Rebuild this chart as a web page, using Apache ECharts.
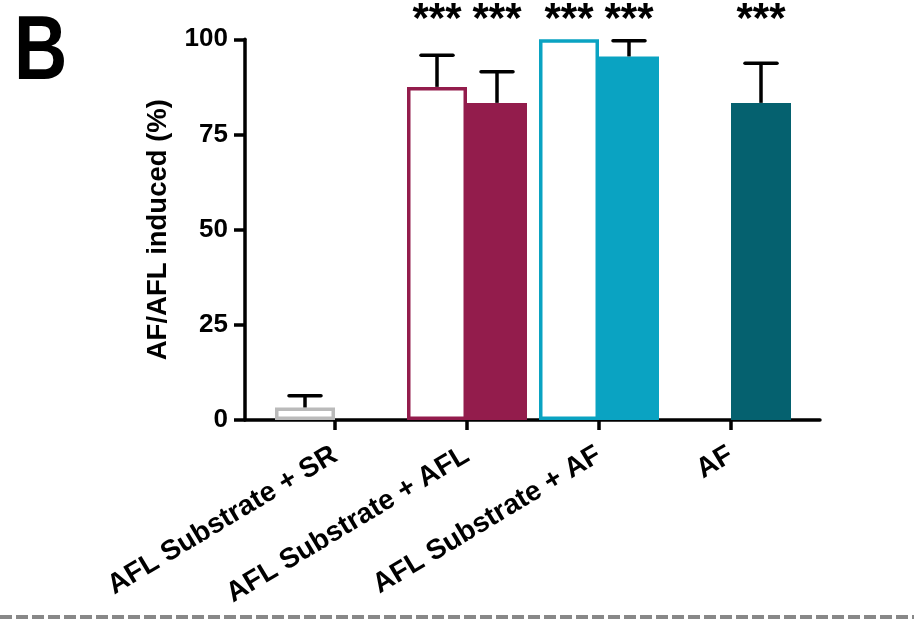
<!DOCTYPE html>
<html>
<head>
<meta charset="utf-8">
<script src="https://cdn.jsdelivr.net/npm/echarts@6/dist/echarts.min.js"></script>
<style>
html,body{margin:0;padding:0;background:#fff;}
#chart{width:914px;height:620px;}
</style>
</head>
<body>
<div id="chart"></div>
<script>
// ---- data ----
var categories = ['AFL Substrate + SR', 'AFL Substrate + AFL', 'AFL Substrate + AF', 'AF'];
var openValues   = [3.3, 87.5, 100, null];
var openErr      = [3.1, 8.3, 0, null];
var openSig      = ['', '***', '***', ''];
var filledValues = [null, 83.3, 95.5, 83.3];
var filledErr    = [null, 8.2, 4.1, 10.4];
var filledSig    = ['', '***', '***', '***'];
var yTicks = [0, 25, 50, 75, 100];

// ---- styles ----
var FONT = "'Liberation Sans', Arial, sans-serif";
var openColors   = ['#bababa', '#931c4c', '#0aa3c2', '#000'];
var filledColors = ['#000', '#931c4c', '#0aa3c2', '#05616f'];
var BAR_W = 60;

var chart = echarts.init(document.getElementById('chart'));

var openData = openValues.map(function (v, i) {
  return { value: v, itemStyle: { color: '#fff', borderColor: openColors[i], borderWidth: 3.5 } };
});
var filledData = filledValues.map(function (v, i) {
  return { value: v, itemStyle: { color: filledColors[i], borderWidth: 0 } };
});

var errData = [];
openValues.forEach(function (v, i) {
  if (v !== null) errData.push([i, v, openErr[i], -1, openSig[i]]);
});
filledValues.forEach(function (v, i) {
  if (v !== null) errData.push([i, v, filledErr[i], 1, filledSig[i]]);
});

function renderErr(params, api) {
  var idx = api.value(0), val = api.value(1), err = api.value(2), side = api.value(3);
  var sig = errData[params.dataIndex][4];
  var base = api.coord([idx, val]);
  var top = api.coord([idx, val + err]);
  var cx = base[0] + side * BAR_W / 2;
  var children = [];
  if (err > 0) {
    children.push({ type: 'line', shape: { x1: cx, y1: base[1], x2: cx, y2: top[1] },
      style: { stroke: '#000', lineWidth: 3.5 } });
    children.push({ type: 'line', shape: { x1: cx - 16, y1: top[1], x2: cx + 16, y2: top[1] },
      style: { stroke: '#000', lineWidth: 3.5, lineCap: 'round' } });
  }
  if (sig) {
    var yTop = api.coord([idx, yTicks[yTicks.length - 1]])[1];
    children.push({ type: 'text', x: cx, y: yTop - 19,
      style: { text: sig, fill: '#000', font: 'bold 42px ' + FONT, align: 'center', verticalAlign: 'middle' } });
  }
  return { type: 'group', children: children };
}

var option = {
  animation: false,
  backgroundColor: '#fff',
  grid: [
    { left: 245, right: 94, top: 39.3, bottom: 200, containLabel: false },
    { left: 269, right: 117, top: 39.3, bottom: 200, containLabel: false }
  ],
  xAxis: [
    { type: 'value', gridIndex: 0, min: 0, max: 1, position: 'bottom',
      axisLine: { show: true, lineStyle: { color: '#000', width: 3.5 } },
      axisTick: { show: false }, axisLabel: { show: false }, splitLine: { show: false } },
    { type: 'category', gridIndex: 1, data: categories, position: 'bottom',
      axisLine: { show: false },
      axisTick: { show: true, alignWithLabel: true, length: 10, lineStyle: { color: '#000', width: 3.5 } },
      axisLabel: { interval: 0, rotate: 31, margin: 33, color: '#000', fontFamily: FONT, fontWeight: 'bold', fontSize: 28 },
      splitLine: { show: false } }
  ],
  yAxis: [
    { type: 'value', gridIndex: 0, min: 0, max: 100, interval: 25,
      name: 'AF/AFL induced (%)', nameLocation: 'middle', nameGap: 73, nameRotate: 90,
      nameTextStyle: { color: '#000', fontFamily: FONT, fontWeight: 'bold', fontSize: 27.5 },
      axisLine: { show: true, lineStyle: { color: '#000', width: 3.5 } },
      axisTick: { show: true, length: 11, lineStyle: { color: '#000', width: 3.5 } },
      axisLabel: { margin: 17, color: '#000', fontFamily: FONT, fontWeight: 'bold', fontSize: 26,
        formatter: function (v) { return yTicks.indexOf(v) >= 0 ? String(v) : ''; } },
      splitLine: { show: false } },
    { type: 'value', gridIndex: 1, min: 0, max: 100, interval: 25, show: false }
  ],
  series: [
    { type: 'bar', xAxisIndex: 1, yAxisIndex: 1, data: openData, barWidth: BAR_W, barGap: '0%', z: 2 },
    { type: 'bar', xAxisIndex: 1, yAxisIndex: 1, data: filledData, barWidth: BAR_W, barGap: '0%', z: 2 },
    { type: 'custom', xAxisIndex: 1, yAxisIndex: 1, data: errData.map(function (d) { return d.slice(0, 4); }),
      renderItem: renderErr, z: 5, clip: false }
  ],
  graphic: [
    { type: 'text', left: 14, top: 9, scaleX: 0.82,
      style: { text: 'B', fill: '#000', font: 'bold 90px ' + FONT } },
    { type: 'line', shape: { x1: 0, y1: 617, x2: 914, y2: 617 },
      style: { stroke: '#888', lineWidth: 4, lineDash: [12, 4] } }
  ]
};
chart.setOption(option);
</script>
</body>
</html>
